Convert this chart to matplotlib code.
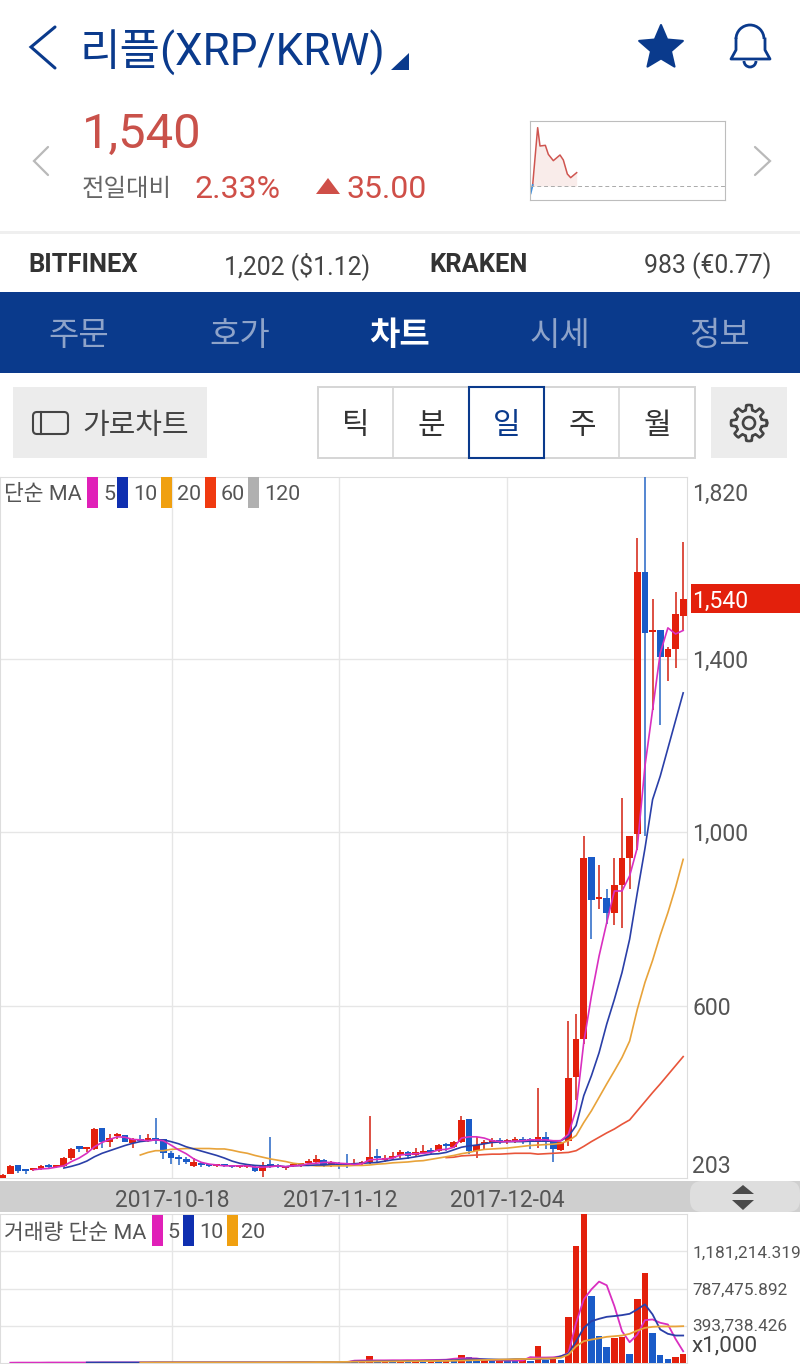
import numpy as np
import matplotlib
matplotlib.use("Agg")
import matplotlib.pyplot as plt
from matplotlib.patches import Rectangle, Polygon, FancyBboxPatch, Circle, Arc

plt.rcParams['font.family'] = ['Roboto', 'Noto Sans CJK KR', 'DejaVu Sans']

# --- data ---
opens = [203,212,232,220,222,224,231,228,231,249,272,270,271,318,285,300,302,283,294,288,
         291,292,261,247,243,231,238,232,231,231,230,229,228,229,219,232,233,226,231,232,
         238,241,245,234,234,234,233,235,239,250,245,249,255,263,256,260,265,266,278,274,
         287,339,265,282,286,288,286,287,290,289,285,297,285,267,289,435,523,943,846,848,
         815,878,940,996,1602,1462,1468,1404,1424,1500]
closes = [211,231,220,219,224,231,229,230,248,271,271,271,317,285,295,302,286,294,288,295,
          290,260,248,246,241,239,232,231,232,230,229,230,230,220,234,230,228,228,233,234,
          241,243,233,236,233,232,236,238,252,249,248,252,263,254,263,266,263,278,276,286,
          337,265,279,284,289,285,288,289,288,287,297,287,270,287,433,523,940,844,848,815,
          878,940,993,1602,1460,1466,1404,1424,1504,1538]
highs = [212,233,234,221,226,233,235,231,252,272,276,272,318,318,305,307,303,296,302,304,
         341,293,265,256,251,248,240,235,234,233,232,232,232,231,240,298,235,230,235,238,
         247,255,246,242,241,258,246,243,345,271,255,264,268,266,272,278,272,282,283,289,
         345,339,298,290,295,295,292,298,298,296,410,308,287,287,565,582,993,943,926,870,
         942,1080,993,1679,1830,1539,1468,1429,1554,1669]
lows = [203,212,214,212,220,222,225,225,228,245,262,262,268,272,275,292,285,273,287,285,
        281,247,235,233,236,228,228,229,228,228,225,226,226,217,206,225,225,222,228,228,
        236,237,228,228,224,226,230,232,235,241,240,246,250,246,252,258,258,264,266,272,
        284,258,250,268,274,282,282,284,281,270,272,270,241,265,276,383,512,754,823,788,
        786,779,870,960,992,1283,1249,1349,1379,1466]

ma5 = [222,224,225,228,231,241,249,260,275,285,292,298,297,292,291,289,291,289,
       279,268,259,247,239,235,233,231,231,231,231,228,228,229,231,229,231,232,
       236,237,239,239,237,236,234,236,245,246,247,249,256,258,259,260,262,268,269,274,
       295,298,298,295,289,287,287,288,289,291,291,291,289,289,
       304,362,516,623,715,792,865,865,900,965,1153,1283,1414,1472,1458,1466]
ma10 = [226,230,235,242,252,260,266,272,278,283,287,289,291,291,287,282,275,270,265,260,
        255,249,242,237,234,232,231,231,231,229,231,232,232,233,233,235,235,235,236,237,
        238,239,242,245,247,249,252,255,258,259,262,268,274,277,279,282,285,286,287,287,
        287,288,288,288,288,289,299,324,393,439,492,558,615,677,754,861,963,1076,1130,
        1194,1258,1322]
ma20 = [256,262,266,266,269,270,271,271,271,271,270,270,267,263,260,255,251,247,244,241,
        237,235,233,231,231,231,231,231,232,232,233,235,236,238,239,240,242,243,246,249,
        252,255,259,262,266,269,270,271,272,274,276,278,279,280,281,283,
        289,301,331,358,389,420,450,481,519,592,654,705,763,815,873,938]
ma60 = [250,251,254,255,256,257,258,258,259,260,260,260,258,259,260,261,
        262,266,276,287,297,307,316,327,337,358,379,400,420,441,462,483]
ma_colors = {"ma5": "#d92fc0", "ma10": "#2a3fa8", "ma20": "#e8a33a", "ma60": "#e8553a"}

volumes = [3,4,3,4,3,5,4,5,4,5,4,6,5,7,6,7,5,6,5,6,
           5,7,6,7,5,6,5,6,5,7,6,7,5,6,5,7,6,8,6,8,
           6,9,7,9,7,10,8,12,78,25,28,24,30,26,32,27,34,30,36,32,
           85,60,30,33,28,30,25,22,28,24,184,35,38,32,489,1241,1578,709,291,167,
           266,273,96,674,958,319,82,43,64,99]
volumes = [v * 1000 for v in volumes]
vol_ma5 = [3,4,4,4,4,5,5,5,5,5,5,5,6,6,6,6,6,6,6,6,6,6,6,6,6,6,6,6,6,6,6,6,6,6,6,6,6,7,7,7,7,8,8,8,9,
           25,27,27,28,28,29,29,30,30,31,32,33,35,45,50,50,48,35,30,28,27,27,26,62,58,58,60,71,
           106,426,674,780,862,823,603,337,220,301,454,461,426,408,255,124]
vol_ma10 = [5,5,5,5,5,5,5,5,5,6,6,6,6,6,6,6,6,6,6,6,6,6,6,6,6,6,6,7,7,7,7,8,8,8,9,
            16,17,18,18,19,20,20,21,22,23,24,25,27,30,35,38,40,40,38,36,36,40,42,42,44,46,48,
            71,99,231,372,443,468,489,497,507,521,568,621,514,355,309,291,291]
vol_ma20 = [5,5,5,6,6,6,6,6,6,6,6,6,6,6,6,6,7,7,7,7,8,8,8,9,10,10,11,12,14,14,15,16,16,17,18,
            18,19,20,20,21,22,24,26,28,30,32,34,36,38,40,42,44,46,48,50,56,
            89,177,231,248,262,277,284,291,309,344,372,383,387,387,387,390]

price_ticks = [600, 1000, 1400]
vol_ticks = [393738.426, 787475.892, 1181214.319]
date_pos = [22.1, 44, 66]
date_labels = ["2017-10-18", "2017-11-12", "2017-12-04"]

# mini chart in the header
mini_t = [2,8,23,30,46,55,70,90,100,112,122,140]
mini_p = [20,45,217,162,164,137,118,135,120,78,67,82]
mini_base = 42

W, H = 800, 1364
RED = "#e3200c"
BLUE = "#1a5bc8"
NAVY = "#0a3a8c"
GRID = "#e6e6e6"
GREY_TXT = "#555555"

fig = plt.figure(figsize=(W / 100, H / 100), dpi=100, facecolor="white")


def pane(x0, y0, x1, y1):
    return fig.add_axes([x0 / W, 1 - y1 / H, (x1 - x0) / W, (y1 - y0) / H])


x_min, x_max = -0.35, 89.5
n = len(opens)
idx = np.arange(n)

# --- price pane ---
ax = pane(0, 477, 687, 1178)
ax.set_xlim(x_min, x_max)
ax.set_ylim(203, 1820)
ax.set_yticks(price_ticks)
ax.set_xticks(date_pos)
ax.grid(True, color=GRID, lw=1)
ax.set_axisbelow(True)
ax.tick_params(length=0, labelleft=False, labelbottom=False)
for s in ax.spines.values():
    s.set_color("#dddddd")

for i in idx:
    up = closes[i] >= opens[i]
    ax.vlines(i, lows[i], highs[i], color="#d8392c" if up else "#3f78cc", lw=1.25, zorder=3)
    body = max(abs(closes[i] - opens[i]), 5)
    ax.bar(i, body, bottom=min(opens[i], closes[i]), width=0.88,
           color=RED if up else BLUE, zorder=4)

for vals, key in [(ma60, "ma60"), (ma20, "ma20"), (ma10, "ma10"), (ma5, "ma5")]:
    ax.plot(np.arange(n - len(vals), n), vals, color=ma_colors[key], lw=1.2, zorder=5)

# --- volume pane ---
vax = pane(0, 1214, 687, 1363)
vax.set_xlim(x_min, x_max)
vax.set_ylim(0, 1578000)
vax.set_yticks(vol_ticks)
vax.set_xticks(date_pos)
vax.grid(True, color=GRID, lw=1)
vax.set_axisbelow(True)
vax.tick_params(length=0, labelleft=False, labelbottom=False)
for s in vax.spines.values():
    s.set_color("#dddddd")
bar_colors = [RED if i == 0 or volumes[i] > volumes[i - 1] else BLUE for i in idx]
vax.bar(idx, volumes, width=0.85, color=bar_colors, zorder=3)
for vals, key in [(vol_ma5, "ma5"), (vol_ma10, "ma10"), (vol_ma20, "ma20")]:
    vals = [v * 1000 for v in vals]
    vax.plot(np.arange(n - len(vals), n), vals, color=ma_colors[key], lw=1.3, zorder=4)

# --- header mini chart ---
mini = pane(530, 121, 725, 200)
mini.set_xlim(0, 585)
mini.set_ylim(0, 237)
mini.set_xticks([])
mini.set_yticks([])
for s in mini.spines.values():
    s.set_color("#bdbdbd")
mini.plot(mini_t[1:], mini_p[1:], color="#cf5550", lw=1.1)
mini.plot(mini_t[:2], mini_p[:2], color="#3f8fdc", lw=1.3)
mini.fill_between(mini_t[1:], mini_base, mini_p[1:], color="#f9ecea", lw=0)
mini.axhline(mini_base, color="#aaaaaa", lw=0.7, ls=(0, (4, 3)))

# --- everything around the charts, in pixel coordinates ---
ui = fig.add_axes([0, 0, 1, 1], zorder=10)
ui.set_xlim(0, W)
ui.set_ylim(H, 0)
ui.axis("off")
ui.patch.set_alpha(0)


def txt(x, y, s, px, color=GREY_TXT, ha="left", weight="normal", **kw):
    return ui.text(x, y, s, fontsize=px * 0.72, color=color, ha=ha, va="center_baseline",
                   fontweight=weight, **kw)


def rect(x0, y0, x1, y1, color, **kw):
    ui.add_patch(Rectangle((x0, y0), x1 - x0, y1 - y0, facecolor=color, lw=0, **kw))


def chevron(pts, color, lw):
    ui.plot(*zip(*pts), color=color, lw=lw, solid_capstyle="round", solid_joinstyle="miter")


# title row
chevron([(55, 27), (31, 47), (55, 68)], NAVY, 2.2)
txt(80, 48, "리플(XRP/KRW)", 44, NAVY)
ui.add_patch(Polygon([(391, 70), (409, 70), (409, 53)], color=NAVY, lw=0))
ang = np.pi / 2 + np.arange(10) * np.pi / 5
rad = np.where(np.arange(10) % 2 == 0, 23, 10.5)
ui.add_patch(Polygon(np.c_[661 + rad * np.cos(ang), 48 - rad * np.sin(ang)], closed=True,
                     facecolor=NAVY, edgecolor=NAVY, lw=1.5, joinstyle="round"))
# bell
ui.add_patch(Arc((750, 39), 28, 28, theta1=180, theta2=360, color=NAVY, lw=2))
ui.plot([736, 736, 731, 770, 765, 765], [39, 50, 59, 59, 50, 39], color=NAVY, lw=2,
        solid_joinstyle="round")
ui.add_patch(Arc((750, 61), 12, 12, theta1=0, theta2=180, color=NAVY, lw=2))

# price row
chevron([(48, 147), (34, 161), (48, 175)], "#b9b9b9", 1.6)
chevron([(755, 147), (770, 161), (755, 175)], "#b9b9b9", 1.6)
txt(82, 130, "1,540", 49, "#c9514a")
txt(82, 187, "전일대비", 24.5, "#666666")
txt(195, 187, "2.33%", 32, "#cf4f48")
ui.add_patch(Polygon([(316, 194), (340, 194), (328, 178)], color="#cf4f48", lw=0))
txt(347, 187, "35.00", 32, "#cf4f48")

# exchanges row
rect(0, 231, W, 234, "#efefef")
txt(28, 263, "BITFINEX", 25.5, "#333333", weight="bold")
txt(370, 263, "1,202 ($1.12)", 24.7, "#444444", ha="right")
txt(429, 263, "KRAKEN", 25.5, "#333333", weight="bold")
txt(771, 263, "983 (€0.77)", 24.7, "#444444", ha="right")

# tabs
rect(0, 292, W, 373, NAVY)
for x, s, on in [(79, "주문", 0), (240, "호가", 0), (400, "차트", 1), (560, "시세", 0), (720, "정보", 0)]:
    txt(x, 333, s, 33, "white" if on else "#8ea3c9", ha="center", weight="bold" if on else "normal")

# buttons
rect(13, 387, 207, 458, "#ececec")
ui.add_patch(FancyBboxPatch((33, 412), 35, 22, boxstyle="round,pad=0,rounding_size=4",
                            facecolor="none", edgecolor="#444444", lw=1.5))
ui.plot([41, 41], [412, 434], color="#444444", lw=1.5)
txt(82, 423, "가로차트", 29, "#444444")
ui.add_patch(Rectangle((318, 387), 377, 71, facecolor="none", edgecolor="#d5d5d5", lw=1.4))
for x in [393, 619]:
    ui.plot([x, x], [387, 458], color="#d5d5d5", lw=1.2)
ui.add_patch(Rectangle((469, 387), 75, 71, facecolor="none", edgecolor=NAVY, lw=1.5))
for x, s, on in [(356, "틱", 0), (431, "분", 0), (507, "일", 1), (582, "주", 0), (657, "월", 0)]:
    txt(x, 423, s, 30, NAVY if on else "#333333", ha="center")
rect(711, 387, 787, 458, "#ececec")
gear_a = np.linspace(0, 2 * np.pi, 121)
gear_r = 15.5 + 2.5 * np.clip(3 * np.cos(8 * gear_a), -1, 1)
ui.plot(749 + gear_r * np.cos(gear_a), 423 + gear_r * np.sin(gear_a), color="#444444", lw=1.9)
ui.add_patch(Circle((749, 423), 6, facecolor="none", edgecolor="#444444", lw=1.9))

# price pane legend and axis labels
txt(4, 492, "단순 MA", 21.5)
for x0, c, x1, s in [(87, "#e020b8", 103, "5"), (117, "#0f2fb0", 133, "10"), (161, "#f0a010", 177, "20"),
                     (205, "#f03a10", 221, "60"), (248, "#b0b0b0", 264, "120")]:
    rect(x0, 477, x0 + 11, 508, c)
    txt(x1, 492, s, 21.5)
for y, s in [(492, "1,820"), (659, "1,400"), (832, "1,000"), (1006, "600"), (1164, "203")]:
    txt(692, y, s, 23)
rect(691, 584, W, 613, RED)
txt(692, 599, "1,540", 23, "white")

# date strip
rect(0, 1181, W, 1212, "#cfcfcf")
ui.add_patch(FancyBboxPatch((690, 1181), 110, 31, boxstyle="round,pad=0,rounding_size=12",
                            facecolor="#dedede", lw=0))
for x, s in zip([172, 340, 507], date_labels):
    txt(x, 1198, s, 22.7, ha="center")
ui.add_patch(Polygon([(732, 1194), (754, 1194), (743, 1185)], color="#4a4a4a", lw=0))
ui.add_patch(Polygon([(732, 1200), (754, 1200), (743, 1210)], color="#4a4a4a", lw=0))

# volume pane legend and axis labels
txt(4, 1231, "거래량 단순 MA", 21.5)
for x0, c, x1, s in [(152, "#e020b8", 167, "5"), (183, "#0f2fb0", 199, "10"), (227, "#f0a010", 241, "20")]:
    rect(x0, 1215, x0 + 11, 1246, c)
    txt(x1, 1231, s, 21.5)
for y, s in [(1252, "1,181,214.319"), (1289, "787,475.892"), (1325, "393,738.426")]:
    txt(692, y, s, 17.2)
txt(692, 1343, "x1,000", 22.5, "#444444")

fig.savefig("out.png", dpi=100)
